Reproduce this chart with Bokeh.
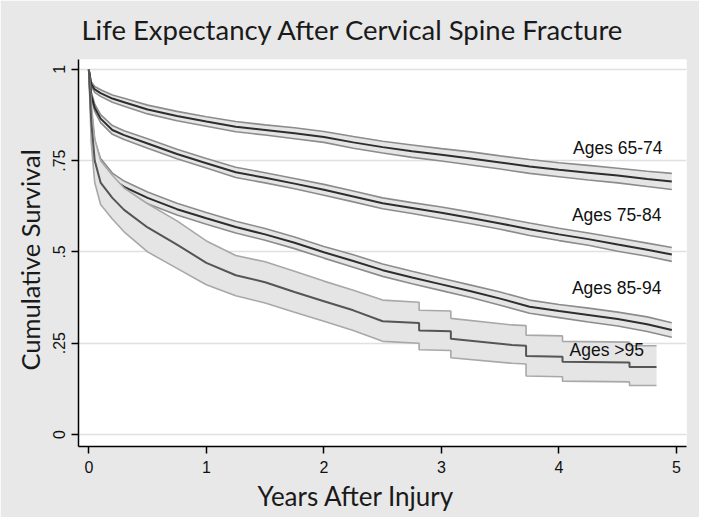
from bokeh.plotting import figure
from bokeh.models import Range1d, FixedTicker, Title
from bokeh.core.properties import value
from bokeh.embed import file_html
from bokeh.resources import INLINE

# ---------------- data ----------------
T = [0, 0.02, 0.05, 0.1, 0.2, 0.3, 0.5, 0.75, 1.0, 1.25, 1.5, 1.75, 2.0, 2.25,
     2.5, 2.75, 3.0, 3.25, 3.5, 3.75, 4.0, 4.25, 4.5, 4.75, 4.96]

S_65_74 = [1.0, 0.96, 0.945, 0.935, 0.92, 0.91, 0.89, 0.872, 0.857, 0.843, 0.834, 0.825,
           0.815, 0.80, 0.787, 0.776, 0.766, 0.756, 0.745, 0.734, 0.725, 0.717, 0.709, 0.700, 0.693]
HW_65_74 = [0, 0.006, 0.008, 0.009, 0.010, 0.011, 0.012, 0.013, 0.013, 0.014, 0.014, 0.015,
            0.015, 0.016, 0.016, 0.017, 0.017, 0.018, 0.018, 0.019, 0.019, 0.020, 0.020, 0.021, 0.022]

S_75_84 = [1.0, 0.93, 0.895, 0.865, 0.834, 0.82, 0.797, 0.768, 0.743, 0.718, 0.703, 0.687,
           0.670, 0.652, 0.633, 0.620, 0.607, 0.593, 0.578, 0.562, 0.548, 0.535, 0.520, 0.506, 0.493]
HW_75_84 = [0, 0.008, 0.010, 0.011, 0.012, 0.012, 0.013, 0.013, 0.013, 0.014, 0.014, 0.014,
            0.015, 0.015, 0.015, 0.015, 0.016, 0.016, 0.016, 0.017, 0.017, 0.017, 0.018, 0.018, 0.019]

S_85_94 = [1.0, 0.88, 0.79, 0.74, 0.70, 0.678, 0.648, 0.617, 0.592, 0.568, 0.548, 0.525,
           0.499, 0.475, 0.450, 0.430, 0.411, 0.392, 0.372, 0.350, 0.338, 0.327, 0.316, 0.302, 0.286]
HW_85_94 = [0, 0.012, 0.015, 0.016, 0.016, 0.016, 0.016, 0.016, 0.016, 0.016, 0.016, 0.016,
            0.016, 0.017, 0.017, 0.017, 0.017, 0.017, 0.018, 0.018, 0.018, 0.019, 0.019, 0.020, 0.020]

T_95 = [0, 0.02, 0.05, 0.1, 0.2, 0.3, 0.5, 0.75, 1.0, 1.25, 1.5, 1.75, 2.0, 2.25, 2.5,
        2.81, 2.81, 3.08, 3.08, 3.6, 3.72, 3.72, 4.03, 4.03, 4.6, 4.6, 4.83]
S_95 = [1.0, 0.86, 0.75, 0.69, 0.648, 0.615, 0.567, 0.52, 0.47, 0.436, 0.417, 0.39, 0.365,
        0.34, 0.31, 0.305, 0.285, 0.283, 0.262, 0.245, 0.243, 0.215, 0.213, 0.199, 0.197, 0.185, 0.185]
LO_95 = [1.0, 0.80, 0.69, 0.63, 0.59, 0.555, 0.50, 0.455, 0.41, 0.38, 0.36, 0.335, 0.31,
         0.285, 0.255, 0.25, 0.232, 0.23, 0.21, 0.195, 0.193, 0.16, 0.158, 0.146, 0.144, 0.134, 0.134]
HI_95 = [1.0, 0.91, 0.81, 0.75, 0.71, 0.675, 0.632, 0.585, 0.53, 0.49, 0.473, 0.447, 0.42,
         0.395, 0.368, 0.362, 0.34, 0.338, 0.318, 0.30, 0.298, 0.272, 0.27, 0.255, 0.253, 0.243, 0.243]

GROUP_LABELS = ["Ages 65-74", "Ages 75-84", "Ages 85-94", "Ages >95"]
LABEL_X = [4.12, 4.11, 4.11, 4.09]
LABEL_Y = [0.785, 0.60, 0.40, 0.232]

X_TICKS = [0, 1, 2, 3, 4, 5]
Y_TICKS = [0, 0.25, 0.5, 0.75, 1]
Y_TICK_LABELS = ["0", ".25", ".5", ".75", "1"]

# ---------------- figure ----------------
p = figure(width=699, height=517, output_backend="svg", toolbar_location=None,
           x_range=Range1d(-0.088, 5.085), y_range=Range1d(-0.033, 1.027),
           min_border_left=78, min_border_right=13, min_border_top=59, min_border_bottom=69)

p.title.text = "Life Expectancy After Cervical Spine Fracture"
p.title.align = "left"
p.title.offset = 3
p.title.vertical_align = "top"
p.title.text_font = "Lato"
p.title.text_font_size = "27.5px"
p.title.text_font_style = "normal"
p.title.text_color = "#1a1a1a"
p.title.standoff = 24

p.background_fill_color = "white"
p.border_fill_color = "#e8e8e8"
p.outline_line_color = None

band_fill = "#e5e5e5"
ci_col = "#8c8c8c"
mid_col = "#2e2e2e"

groups = [(S_65_74, HW_65_74), (S_75_84, HW_75_84), (S_85_94, HW_85_94)]
for s, hw in groups:
    lo = [a - b for a, b in zip(s, hw)]
    hi = [a + b for a, b in zip(s, hw)]
    p.varea(x=T, y1=lo, y2=hi, fill_color=band_fill)
    p.line(T, lo, line_color=ci_col, line_width=1.6)
    p.line(T, hi, line_color=ci_col, line_width=1.6)
    p.line(T, s, line_color=mid_col, line_width=2)

p.varea(x=T_95, y1=LO_95, y2=HI_95, fill_color=band_fill)
p.line(T_95, LO_95, line_color="#a8a8a8", line_width=1.6)
p.line(T_95, HI_95, line_color="#a8a8a8", line_width=1.6)
p.line(T_95, S_95, line_color="#555555", line_width=2)

p.text(x=LABEL_X, y=LABEL_Y, text=GROUP_LABELS, text_font=value("Liberation Sans"),
       text_font_size="17.5px", text_color="#111111", text_baseline="middle", text_align="left")

# axes
p.xaxis.ticker = FixedTicker(ticks=X_TICKS)
p.yaxis.ticker = FixedTicker(ticks=Y_TICKS)
p.yaxis.major_label_overrides = {t: l for t, l in zip(Y_TICKS, Y_TICK_LABELS)}
p.yaxis.major_label_orientation = "vertical"
for ax in (p.xaxis[0], p.yaxis[0]):
    ax.axis_line_color = "black"
    ax.axis_line_width = 1.5
    ax.major_tick_line_color = "black"
    ax.major_tick_line_width = 1.5
    ax.major_tick_out = 7
    ax.major_tick_in = 0
    ax.minor_tick_line_color = None
    ax.major_label_text_font = "Liberation Sans"
    ax.major_label_text_font_size = "16px"
    ax.major_label_text_color = "#111111"
p.xaxis.major_label_standoff = 7
p.yaxis.major_label_standoff = 6

# axis titles placed like the reference (not centred on the frame)
xlab = Title(text="Years After Injury", align="left", offset=179, standoff=8,
             vertical_align="top", text_font="Lato", text_font_size="26px",
             text_font_style="normal", text_color="#1a1a1a")
p.add_layout(xlab, "below")
ylab = Title(text="Cumulative Survival", align="left", offset=76, standoff=12,
             vertical_align="bottom", text_font="Lato", text_font_size="25.5px",
             text_font_style="normal", text_color="#1a1a1a")
p.add_layout(ylab, "left")

p.xgrid.visible = False
p.ygrid.ticker = FixedTicker(ticks=Y_TICKS)
p.ygrid.grid_line_color = "#e0e0e0"
p.ygrid.grid_line_width = 1.5

open("out.html", "w").write(file_html(p, INLINE))
